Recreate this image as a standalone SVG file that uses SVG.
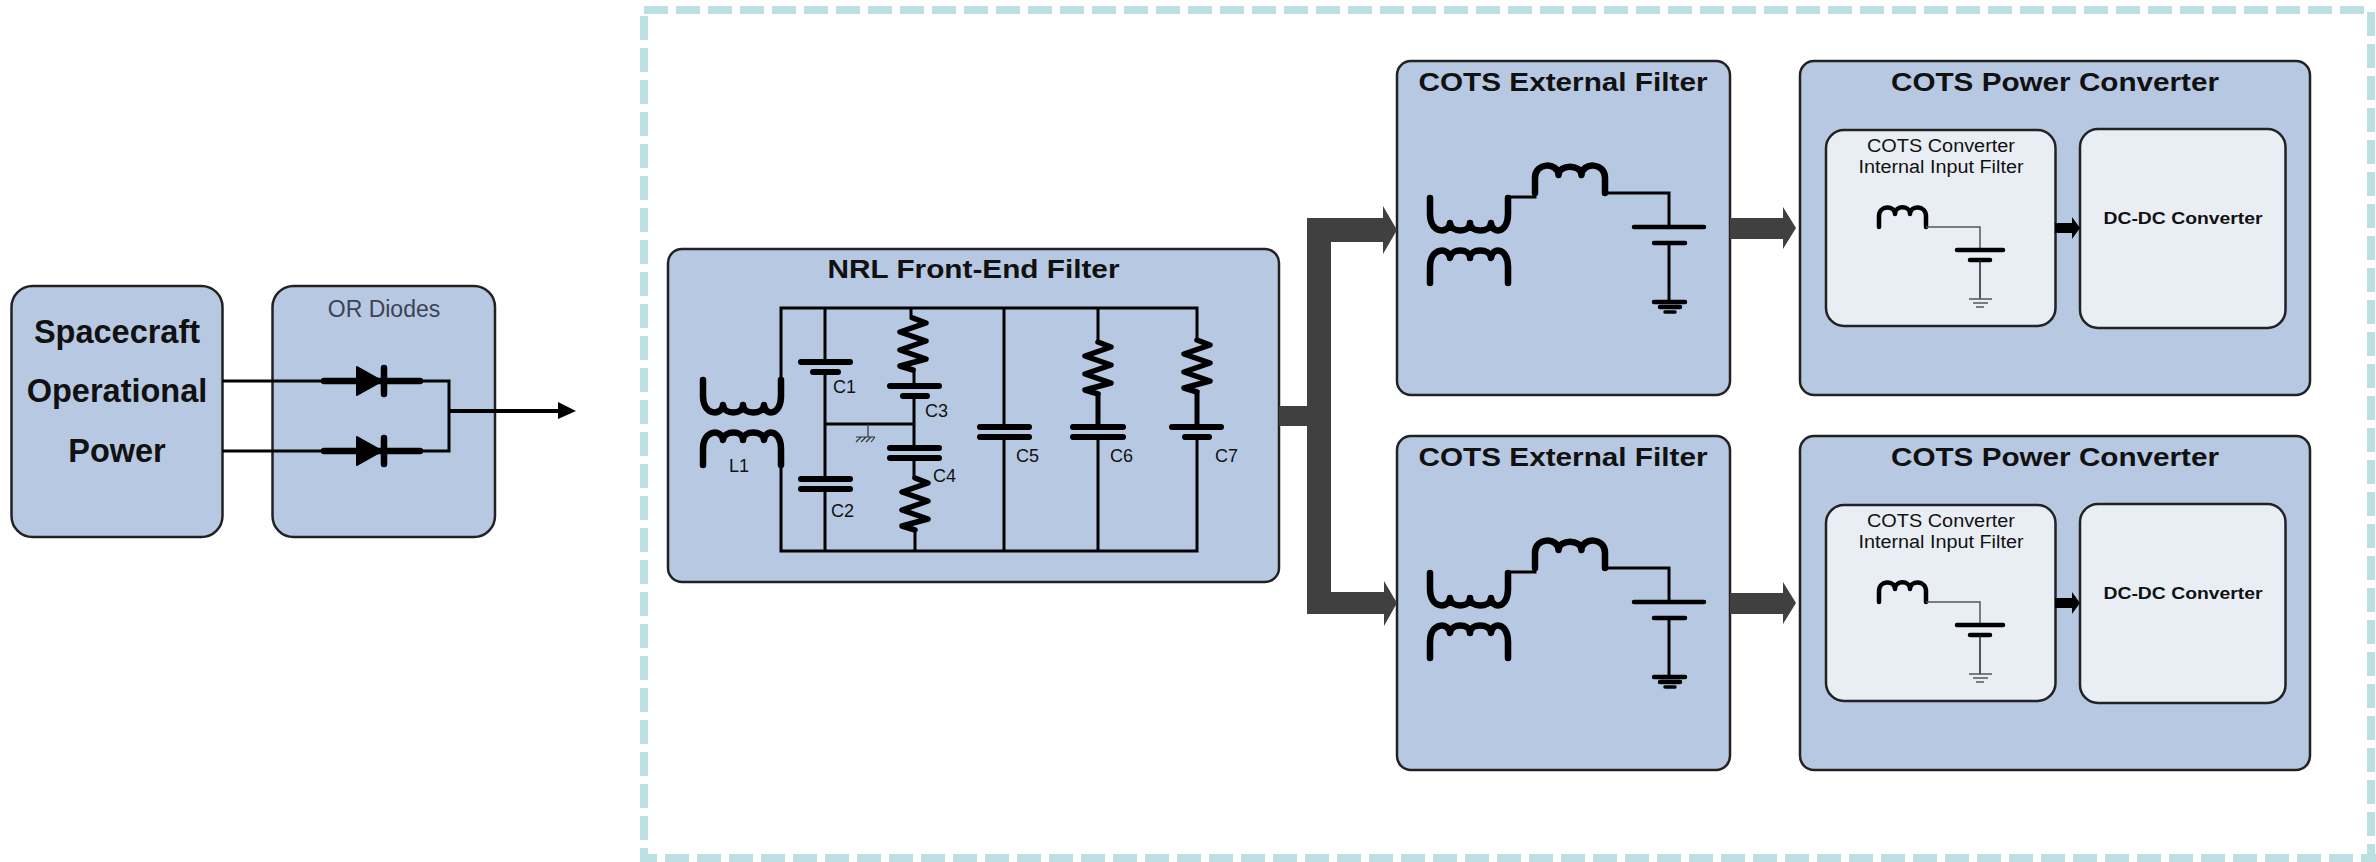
<svg xmlns="http://www.w3.org/2000/svg" xmlns:xlink="http://www.w3.org/1999/xlink" width="2376" height="862" viewBox="0 0 2376 862">
<style>
text{font-family:"Liberation Sans",Arial,sans-serif;fill:#111}
.box{fill:#b7c9e2;stroke:#222;stroke-width:2.5}
.inner{fill:#e9eef5;stroke:#222;stroke-width:2.5}
.title{font-weight:700;font-size:26px;text-anchor:middle}
.big{font-weight:700;font-size:32.5px;text-anchor:middle}
.lab{font-size:18px}
.mid{text-anchor:middle}
.w{fill:none;stroke:#000;stroke-width:3;stroke-linecap:square}
.coil{fill:none;stroke:#000;stroke-width:6.5;stroke-linecap:round;stroke-linejoin:round}
.res{fill:none;stroke:#000;stroke-width:5.5;stroke-linejoin:round;stroke-linecap:round}
.plate{fill:none;stroke:#000;stroke-width:6;stroke-linecap:round}
.bus{fill:#404040}
</style>
<defs>
<path id="coil78" class="coil" d="M0 0V16C0 36 19 36 20 25C21 35 40 35 40 25C40 35 60 35 61 25C62 36 78 36 78 16V0"/>
<path id="res" class="res" d="M0 0L13 5L-13 14L13 23L-13 32L13 41L-13 48L0 52"/>
<g id="diode">
<path d="M324 0H420" fill="none" stroke="#000" stroke-width="6.5" stroke-linecap="round"/>
<path d="M357 -14L382 0L357 14Z" fill="#000" stroke="#000" stroke-width="2" stroke-linejoin="round"/>
<path d="M384 -13V13" fill="none" stroke="#000" stroke-width="6.5" stroke-linecap="round"/>
</g>
<g id="ext-circuit">
<use xlink:href="#coil78" href="#coil78" transform="translate(1430,198)"/>
<use xlink:href="#coil78" href="#coil78" transform="translate(1430,283) scale(1,-1)"/>
<path d="M1508 197H1535" class="w"/>
<path class="coil" d="M1535 193V178C1535 162 1558 162 1558.500 175C1559 164 1581 164 1581.500 175C1582 162 1605 162 1605 178V193"/>
<path d="M1605 193H1669V227M1669 243V302" class="w"/>
<path d="M1634 227H1704M1654 243H1685M1654 302H1685M1660 307H1680" fill="none" stroke="#000" stroke-width="4.500" stroke-linecap="round"/>
<path d="M1665 312H1675" fill="none" stroke="#000" stroke-width="3.500" stroke-linecap="round"/>
</g>
<g id="int-circuit">
<path class="coil" style="stroke-width:4.500" d="M1879 227V216C1879 205 1895 205 1895 214C1895 205 1910 205 1910 214C1910 205 1926 205 1926 216V227"/>
<path d="M1926 227H1980V250" fill="none" stroke="#555" stroke-width="1.500"/>
<path d="M1957 250H2003M1970 260H1990" fill="none" stroke="#000" stroke-width="4.500" stroke-linecap="round"/>
<path d="M1980 260V299" fill="none" stroke="#222" stroke-width="1.500"/>
<path d="M1969 299H1992M1973 303H1988M1976 307H1984" fill="none" stroke="#555" stroke-width="1.500"/>
</g>
</defs>

<path id="boundary" fill="none" stroke="#bce0e2" stroke-width="8" stroke-dasharray="24 8" d="M644 10H2372M644 16V862M2371 12V862M665 858H2376M640 858H657"/>

<g id="spacecraft-power">
<rect class="box" x="11.500" y="286" width="211" height="251" rx="21"/>
<text class="big" x="117" y="343">Spacecraft</text>
<text class="big" x="117" y="402">Operational</text>
<text class="big" x="117" y="462">Power</text>
</g>

<g id="or-diodes">
<rect class="box" x="272.500" y="286" width="222.500" height="251" rx="21"/>
<text x="384" y="317" font-size="23" text-anchor="middle" style="fill:#3c4354">OR Diodes</text>
</g>

<g id="nrl-filter">
<rect class="box" x="668" y="249" width="611" height="333" rx="14"/>
<text class="title" x="973.500" y="278" textLength="292" lengthAdjust="spacingAndGlyphs">NRL Front-End Filter</text>
<path class="w" d="M781 378V308H1197M781 467V551H1197M825 308V362M825 372V479M825 489V551M825 424H914M911 308V318M914 370V386M914 396V448M914 458V477M915 530V551M1004 308V427M1004 437V551M1098 308V342M1098 437V551M1197 308V340M1197 437V551"/>
<path d="M1098 393V427M1197 393V427" fill="none" stroke="#000" stroke-width="5"/>
<use xlink:href="#coil78" href="#coil78" transform="translate(703,380)"/>
<use xlink:href="#coil78" href="#coil78" transform="translate(703,465) scale(1,-1)"/>
<use xlink:href="#res" href="#res" transform="translate(913,318)"/>
<use xlink:href="#res" href="#res" transform="translate(915,478)"/>
<use xlink:href="#res" href="#res" transform="translate(1098,342)"/>
<use xlink:href="#res" href="#res" transform="translate(1197,340)"/>
<path class="plate" d="M801 362H850M813 372H838M801 479H850M801 489H850M890 386H939M903 396H927M890 448H939M890 458H939M980 427H1029M980 437H1029M1073 427H1123M1073 437H1123M1172 427H1221M1185 437H1209"/>
<path d="M868 424V437M856 437H875M856 442L861 437M861 442L866 437M866 442L871 437M871 442L875 437" fill="none" stroke="#333" stroke-width="1.200"/>
<text class="lab" x="833" y="393">C1</text>
<text class="lab" x="831" y="517">C2</text>
<text class="lab" x="925" y="417">C3</text>
<text class="lab" x="933" y="482">C4</text>
<text class="lab" x="1016" y="462">C5</text>
<text class="lab" x="1110" y="462">C6</text>
<text class="lab" x="1215" y="462">C7</text>
<text class="lab" x="729" y="472">L1</text>
</g>

<g id="ext-filter-1">
<rect class="box" x="1397" y="61" width="333" height="334" rx="14"/>
<text class="title" x="1563" y="91" textLength="289" lengthAdjust="spacingAndGlyphs">COTS External Filter</text>
<use xlink:href="#ext-circuit" href="#ext-circuit"/>
</g>
<g id="ext-filter-2">
<rect class="box" x="1397" y="436" width="333" height="334" rx="14"/>
<text class="title" x="1563" y="466" textLength="289" lengthAdjust="spacingAndGlyphs">COTS External Filter</text>
<use xlink:href="#ext-circuit" href="#ext-circuit" transform="translate(0,375)"/>
</g>

<g id="power-converter-1">
<rect class="box" x="1800" y="61" width="510" height="334" rx="14"/>
<text class="title" x="2055" y="91" textLength="328" lengthAdjust="spacingAndGlyphs">COTS Power Converter</text>
</g>
<g id="input-filter-1">
<rect class="inner" x="1826" y="130" width="229.500" height="196" rx="18"/>
<text class="lab mid" x="1941" y="152" textLength="148" lengthAdjust="spacingAndGlyphs">COTS Converter</text>
<text class="lab mid" x="1941" y="173" textLength="165" lengthAdjust="spacingAndGlyphs">Internal Input Filter</text>
<use xlink:href="#int-circuit" href="#int-circuit"/>
</g>
<g id="dcdc-1">
<rect class="inner" x="2080" y="129" width="205.500" height="199" rx="18"/>
<text x="2183" y="224" font-size="17" font-weight="700" text-anchor="middle" textLength="159" lengthAdjust="spacingAndGlyphs">DC-DC Converter</text>
</g>

<g id="power-converter-2">
<rect class="box" x="1800" y="436" width="510" height="334" rx="14"/>
<text class="title" x="2055" y="466" textLength="328" lengthAdjust="spacingAndGlyphs">COTS Power Converter</text>
</g>
<g id="input-filter-2">
<rect class="inner" x="1826" y="505" width="229.500" height="196" rx="18"/>
<text class="lab mid" x="1941" y="527" textLength="148" lengthAdjust="spacingAndGlyphs">COTS Converter</text>
<text class="lab mid" x="1941" y="548" textLength="165" lengthAdjust="spacingAndGlyphs">Internal Input Filter</text>
<use xlink:href="#int-circuit" href="#int-circuit" transform="translate(0,375)"/>
</g>
<g id="dcdc-2">
<rect class="inner" x="2080" y="504" width="205.500" height="199" rx="18"/>
<text x="2183" y="599" font-size="17" font-weight="700" text-anchor="middle" textLength="159" lengthAdjust="spacingAndGlyphs">DC-DC Converter</text>
</g>

<g id="connectors">
<path class="w" d="M224 381H323M224 451H323M422 381H449V451H422"/>
<path d="M449 411H559" fill="none" stroke="#000" stroke-width="4"/>
<path d="M558 402L576 411L558 419Z" fill="#000"/>
<use xlink:href="#diode" href="#diode" transform="translate(0,381)"/>
<use xlink:href="#diode" href="#diode" transform="translate(0,451)"/>
<path class="bus" d="M1279 406H1307V218H1383V206L1397 230L1383 254V242H1331V592H1384V581L1397 603L1384 626V614H1307V426H1279Z"/>
<path class="bus" d="M1730 218H1783V207L1796 228L1783 249V239H1730Z"/>
<path class="bus" d="M1730 593H1783V582L1796 603L1783 624V614H1730Z"/>
<path d="M2055 223H2072V217L2080 228L2072 239V233H2055Z" fill="#000"/>
<path d="M2055 598H2072V592L2080 603L2072 614V608H2055Z" fill="#000"/>
</g>
</svg>
